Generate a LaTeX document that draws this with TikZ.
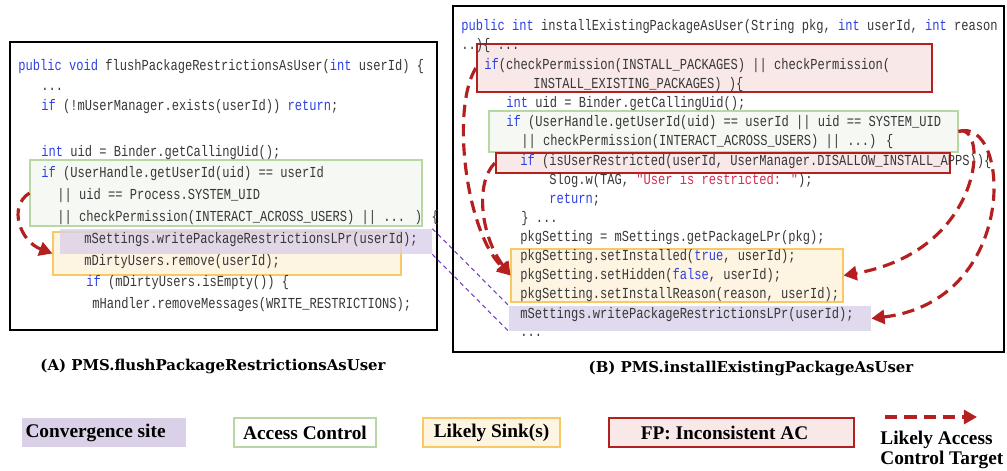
\documentclass[tikz,border=0pt]{standalone}
\usepackage{fontspec}
\usepackage{xcolor}
\usetikzlibrary{arrows.meta,positioning,fit,calc}
\newfontfamily\codefont[FakeStretch=0.79]{Liberation Mono}
\newfontfamily\captfont{DejaVu Serif}
\newfontfamily\lgdfont{Liberation Serif}
\definecolor{codegray}{RGB}{55,55,55}
\definecolor{kwblue}{RGB}{45,65,225}
\definecolor{strred}{RGB}{210,45,85}
\definecolor{convpurple}{RGB}{218,208,232}
\definecolor{acgreen}{RGB}{185,215,165}
\definecolor{acfill}{RGB}{246,249,243}
\definecolor{sinkorange}{RGB}{248,200,100}
\definecolor{sinkfill}{RGB}{254,244,226}
\definecolor{fpred}{RGB}{180,32,32}
\definecolor{fpfill}{RGB}{249,232,232}
\definecolor{convline}{RGB}{120,60,190}
\newcommand{\kwd}[1]{\textcolor{kwblue}{#1}}
\newcommand{\strc}[1]{\textcolor{strred}{#1}}
\tikzset{
  cline/.style={anchor=west, inner sep=0pt, text height=6pt, text depth=1.6pt,
                font=\codefont\fontsize{8.7}{10}\selectfont, text=codegray},
  hlconv/.style={rectangle, draw=none, fill=convpurple, fill opacity=0.8, inner sep=0pt},
  hlac/.style={rectangle, draw=acgreen, fill=acfill, line width=0.6pt, inner sep=0pt},
  hlsink/.style={rectangle, draw=sinkorange, fill=sinkfill, line width=0.6pt, inner sep=0pt},
  hlfp/.style={rectangle, draw=fpred, fill=fpfill, line width=1.3pt, inner sep=0pt},
  acarr/.style={-{Triangle[length=7.5pt,width=8pt]}, line width=1.8pt, fpred, dash pattern=on 7pt off 4pt},
  convln/.style={convline, line width=0.6pt, dash pattern=on 2.5pt off 2pt},
  panel/.style={draw=black, line width=1pt},
  capt/.style={font=\captfont\bfseries\fontsize{8.5}{10}\selectfont, text=black},
  lgd/.style={font=\lgdfont\bfseries\fontsize{11}{11.5}\selectfont, inner sep=0pt, align=left},
}
\begin{document}
\begin{tikzpicture}[x=0.02cm, y=-0.02cm]
        \useasboundingbox (0,0) rectangle (1007,470);
        % highlights (A)
        \node[hlac, fit={(30,160) (422,226)}] (acA) {};
        \node[hlsink, fit={(53,232) (401,275)}] (sinkA) {};
        \node[hlconv, fit={(60,229) (432,254)}] (convA) {};
        % highlights (B)
        \node[hlfp, fit={(477,44) (932,92)}] (fpA) {};
        \node[hlac, fit={(489,111) (958,152)}] (acB) {};
        \node[hlfp, fit={(496,153) (950,173)}] (fpB) {};
        \node[hlsink, fit={(511,249) (843,302)}] (sinkB) {};
        \node[hlconv, fit={(509,306) (871,331)}] (convB) {};
        % panels
        \draw[panel] (10,42) rectangle (437,330);
        \draw[panel] (453,6) rectangle (1004,352);
        % code (A)
        \node[cline] (a1) at (18,67) {\kwd{public} \kwd{void} flushPackageRestrictionsAsUser(\kwd{int} userId) \{};
        \node[cline] (a2) at (41,87) {...};
        \node[cline] (a3) at (41,107) {\kwd{if} (!mUserManager.exists(userId)) \kwd{return};};
        \node[cline] (a4) at (41,153) {\kwd{int} uid = Binder.getCallingUid();};
        \node[cline] (a5) at (41,174) {\kwd{if} (UserHandle.getUserId(uid) == userId};
        \node[cline] (a6) at (57,196) {|| uid == Process.SYSTEM\_UID};
        \node[cline] (a7) at (57,218) {|| checkPermission(INTERACT\_ACROSS\_USERS) || ... ) \{};
        \node[cline] (a8) at (84,240) {mSettings.writePackageRestrictionsLPr(userId);};
        \node[cline] (a9) at (84,262) {mDirtyUsers.remove(userId);};
        \node[cline] (a10) at (86,283) {\kwd{if} (mDirtyUsers.isEmpty()) \{};
        \node[cline] (a11) at (92,305) {mHandler.removeMessages(WRITE\_RESTRICTIONS);};
        % code (B)
        \node[cline] (b1) at (461,27) {\kwd{public} \kwd{int} installExistingPackageAsUser(String pkg, \kwd{int} userId, \kwd{int} reason};
        \node[cline] (b2) at (461,46) {..)\{ ...};
        \node[cline] (b3) at (484,66) {\kwd{if}(checkPermission(INSTALL\_PACKAGES) || checkPermission(};
        \node[cline] (b4) at (533,85) {INSTALL\_EXISTING\_PACKAGES) )\{};
        \node[cline] (b5) at (506,104) {\kwd{int} uid = Binder.getCallingUid();};
        \node[cline] (b6) at (506,123) {\kwd{if} (UserHandle.getUserId(uid) == userId || uid == SYSTEM\_UID};
        \node[cline] (b7) at (521,142) {|| checkPermission(INTERACT\_ACROSS\_USERS) || ...) \{};
        \node[cline] (b8) at (520,162) {\kwd{if} (isUserRestricted(userId, UserManager.DISALLOW\_INSTALL\_APPS))\{};
        \node[cline] (b9) at (549,181) {Slog.w(TAG, \strc{"User is restricted: "});};
        \node[cline] (b10) at (549,200) {\kwd{return};};
        \node[cline] (b11) at (521,219) {\} ...};
        \node[cline] (b12) at (520,238) {pkgSetting = mSettings.getPackageLPr(pkg);};
        \node[cline] (b13) at (520,257) {pkgSetting.setInstalled(\kwd{true}, userId);};
        \node[cline] (b14) at (520,276) {pkgSetting.setHidden(\kwd{false}, userId);};
        \node[cline] (b15) at (520,295) {pkgSetting.setInstallReason(reason, userId);};
        \node[cline] (b16) at (520,315) {mSettings.writePackageRestrictionsLPr(userId);};
        \node[cline] (b17) at (520,333) {...};
        % convergence links
        \draw[convln] (convA.north east) -- (convB.north west);
        \draw[convln] (convA.south east) -- (convB.south west);
        % access control targets
        \draw[acarr] (acA.west) .. controls +(-22,14) and +(-32,-12) .. (sinkA.west);
        \draw[acarr] (fpA.west) .. controls +(-25,40) and +(-45,-45) .. (sinkB.west);
        \draw[acarr] (fpB.west) .. controls +(-20,20) and +(-30,-40) .. (sinkB.west);
        \draw[acarr] (acB.east) .. controls +(30,-10) and +(142,-25) .. (sinkB.east);
        \draw[acarr] (acB.east) .. controls +(52,-16) and +(149,-18) .. (convB.east);
        % captions
        \node[capt] (captA) at (213,366) {(A) PMS.flushPackageRestrictionsAsUser};
        \node[capt] (captB) at (751,368) {(B) PMS.installExistingPackageAsUser};
        % legend
        \node[hlconv, fill opacity=1, fit={(22,418) (186,447)}] (lconv) {};
        \node[hlac, fill=white, fit={(234,418) (376,447)}] (lac) {};
        \node[hlsink, fit={(423,418) (560,447)}] (lsink) {};
        \node[hlfp, fit={(609,418) (854,447)}] (lfp) {};
        \node[lgd, right=2pt of lconv.west] (lconvt) {Convergence site};
        \node[lgd] (lact) at (lac) {Access Control};
        \node[lgd] (lsinkt) at (lsink) {Likely Sink(s)};
        \node[lgd] (lfpt) at ($(lfp.center)+(-7,0)$) {FP: Inconsistent AC};
        \coordinate (lgs) at (885,417);
        \coordinate (lge) at (977,417);
        \draw[acarr] (lgs) -- (lge);
        \node[lgd, anchor=north west] (lgat) at (880,431) {Likely Access\\Control Target};
    \end{tikzpicture}
\end{document}
